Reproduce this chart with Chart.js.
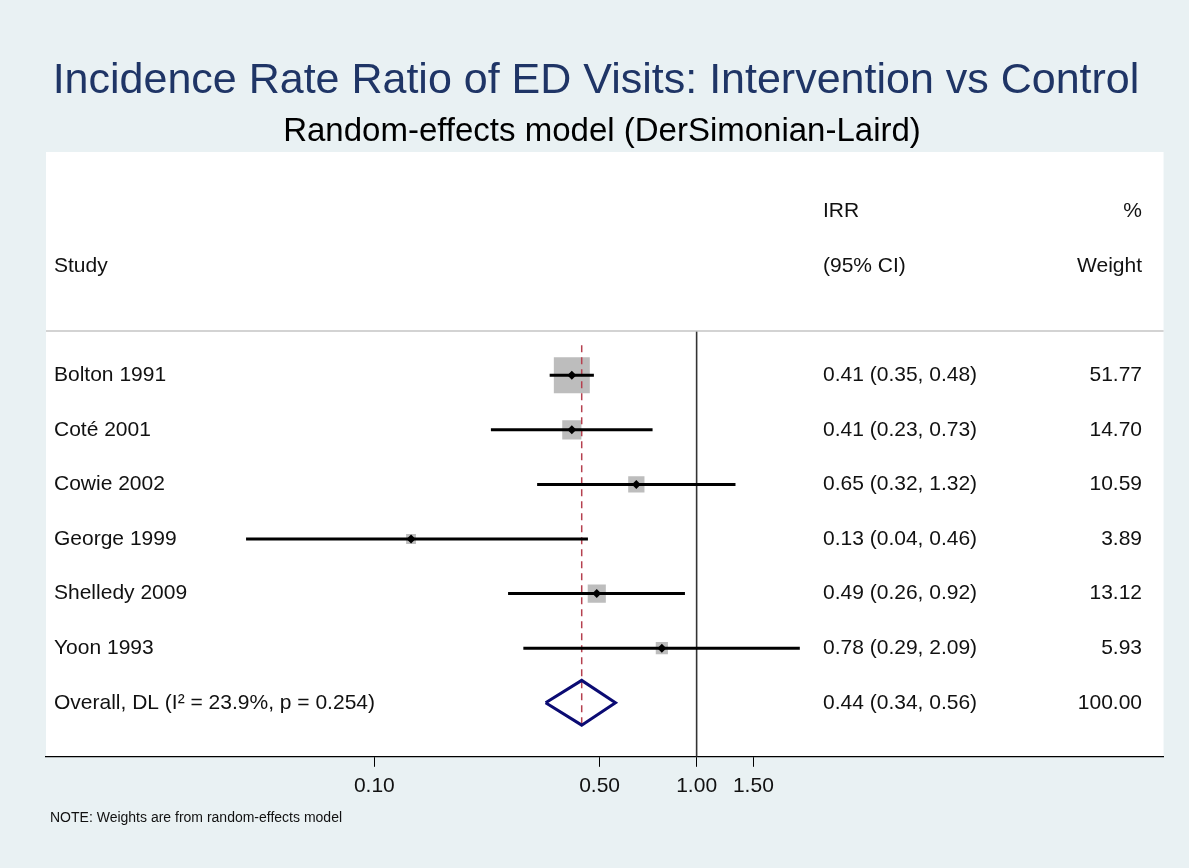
<!DOCTYPE html>
<html>
<head>
<meta charset="utf-8">
<title>Forest plot - IRR of ED visits</title>
<script src="https://cdn.jsdelivr.net/npm/chart.js@4.4.1/dist/chart.umd.min.js"></script>
<style>
  html, body { margin: 0; padding: 0; background: #e9f1f3; }
  #wrap { width: 1189px; height: 868px; }
</style>
</head>
<body>
<div id="wrap"><canvas id="forest" width="1189" height="868"></canvas></div>
<script>
// ---------- data ---------- //
const studies = ["Bolton 1991", "Coté 2001", "Cowie 2002", "George 1999", "Shelledy 2009", "Yoon 1993"];
const irr = [0.41, 0.41, 0.65, 0.13, 0.49, 0.78];
const ciLow = [0.35, 0.23, 0.32, 0.04, 0.26, 0.29];
const ciHigh = [0.48, 0.73, 1.32, 0.46, 0.92, 2.09];
const weights = [51.77, 14.70, 10.59, 3.89, 13.12, 5.93];

const overallIrr = 0.44;
const overallLow = 0.34;
const overallHigh = 0.56;
const overallWeight = 100;
const iSquared = 23.9;
const pHet = 0.254;

const xTicks = [0.1, 0.5, 1, 1.5];

const FONT = "'Liberation Sans', Arial, Helvetica, sans-serif";
const overallRow = studies.length + 1;

// ---------- datasets ---------- //
const ciSets = studies.map((s, i) => ({
  type: "line",
  data: [{ x: ciLow[i], y: i + 1 }, { x: ciHigh[i], y: i + 1 }],
  borderColor: "#000",
  borderWidth: 3,
  pointRadius: 0,
  borderCapStyle: "butt",
}));

const datasets = [
  // point estimates
  {
    type: "scatter",
    data: irr.map((v, i) => ({ x: v, y: i + 1 })),
    pointStyle: "rectRot",
    pointRadius: 4.5,
    backgroundColor: "#000",
    borderColor: "#000",
    borderWidth: 0,
  },
  ...ciSets,
  // pooled estimate diamond
  {
    type: "line",
    data: [
      { x: overallLow, y: overallRow },
      { x: overallIrr, y: overallRow - 0.41 },
      { x: overallHigh, y: overallRow },
      { x: overallIrr, y: overallRow + 0.41 },
      { x: overallLow, y: overallRow },
    ],
    borderColor: "#0b0b73",
    borderWidth: 3,
    pointRadius: 0,
    tension: 0,
    borderJoinStyle: "miter",
  },
  // line of no effect
  {
    type: "line",
    data: [{ x: 1, y: 0.19 }, { x: 1, y: 8 }],
    borderColor: "#333",
    borderWidth: 1.6,
    pointRadius: 0,
  },
  // overall estimate dashed line
  {
    type: "line",
    data: [{ x: overallIrr, y: 0.45 }, { x: overallIrr, y: 7.46 }],
    borderColor: "#b5404f",
    borderWidth: 1.5,
    borderDash: [7, 5],
    pointRadius: 0,
  },
  // weight boxes
  {
    type: "scatter",
    data: irr.map((v, i) => ({ x: v, y: i + 1 })),
    pointStyle: "rect",
    pointRadius: weights.map((w) => (5 * Math.sqrt(w)) / 1.414),
    backgroundColor: "#bdbdbd",
    borderWidth: 0,
  },
];

// ---------- decorations: titles, columns, separator ---------- //
const forestDecor = {
  id: "forestDecor",
  beforeDraw(chart) {
    const { ctx, chartArea } = chart;
    ctx.save();
    ctx.fillStyle = "#e9f1f3";
    ctx.fillRect(0, 0, chart.width, chart.height);
    ctx.fillStyle = "#ffffff";
    ctx.fillRect(chartArea.left, chartArea.top, chartArea.right - chartArea.left, chartArea.bottom - chartArea.top);

    ctx.textAlign = "center";
    ctx.textBaseline = "middle";
    ctx.fillStyle = "#1f3566";
    ctx.font = "43px " + FONT;
    ctx.fillText("Incidence Rate Ratio of ED Visits: Intervention vs Control", 596, 81);
    ctx.fillStyle = "#000";
    ctx.font = "33px " + FONT;
    ctx.fillText("Random-effects model (DerSimonian-Laird)", 602, 132);

    ctx.font = "14px " + FONT;
    ctx.textAlign = "left";
    ctx.fillStyle = "#111";
    ctx.fillText("NOTE: Weights are from random-effects model", 50, 818);
    ctx.restore();
  },
  afterDatasetsDraw(chart) {
    const { ctx, chartArea } = chart;
    const y = chart.scales.y;
    ctx.save();
    // header separator
    ctx.strokeStyle = "#c4c4c4";
    ctx.lineWidth = 1.5;
    ctx.beginPath();
    ctx.moveTo(chartArea.left, y.getPixelForValue(0.19));
    ctx.lineTo(chartArea.right, y.getPixelForValue(0.19));
    ctx.stroke();

    ctx.fillStyle = "#111";
    ctx.font = "21px " + FONT;
    ctx.textBaseline = "middle";
    const colStudy = 54, colIrr = 823, colW = 1142;

    ctx.textAlign = "left";
    ctx.fillText("IRR", colIrr, y.getPixelForValue(-2));
    ctx.fillText("Study", colStudy, y.getPixelForValue(-1));
    ctx.fillText("(95% CI)", colIrr, y.getPixelForValue(-1));
    ctx.textAlign = "right";
    ctx.fillText("%", colW, y.getPixelForValue(-2));
    ctx.fillText("Weight", colW, y.getPixelForValue(-1));

    const fmt = (v) => v.toFixed(2);
    studies.forEach((s, i) => {
      const py = y.getPixelForValue(i + 1);
      ctx.textAlign = "left";
      ctx.fillText(s, colStudy, py);
      ctx.fillText(fmt(irr[i]) + " (" + fmt(ciLow[i]) + ", " + fmt(ciHigh[i]) + ")", colIrr, py);
      ctx.textAlign = "right";
      ctx.fillText(fmt(weights[i]), colW, py);
    });
    const py = y.getPixelForValue(overallRow);
    ctx.textAlign = "left";
    ctx.fillText("Overall, DL (I\u00B2 = " + iSquared.toFixed(1) + "%, p = " + pHet.toFixed(3) + ")", colStudy, py);
    ctx.fillText(fmt(overallIrr) + " (" + fmt(overallLow) + ", " + fmt(overallHigh) + ")", colIrr, py);
    ctx.textAlign = "right";
    ctx.fillText(fmt(overallWeight), colW, py);
    ctx.restore();
  },
};

// ---------- Chart.js setup ---------- //
const ctx = document.getElementById("forest").getContext("2d");
const forestChart = new Chart(ctx, {
  type: "scatter",
  data: { datasets },
  options: {
    responsive: false,
    animation: false,
    layout: { padding: { left: 46, right: 20, top: 152, bottom: 62 } },
    plugins: {
      legend: { display: false },
      tooltip: { enabled: false },
      title: { display: false },
    },
    scales: {
      x: {
        type: "logarithmic",
        bounds: "data",
        min: 0.00958,
        max: 28.1,
        afterBuildTicks: (scale) => {
          scale.ticks = xTicks.map((v) => ({ value: v }));
        },
        grid: { display: true, drawOnChartArea: false, drawTicks: true, tickLength: 10, color: "#000", lineWidth: 1 },
        border: { display: true, color: "#000", width: 1.2 },
        ticks: {
          autoSkip: false,
          maxRotation: 0,
          padding: 7,
          color: "#111",
          font: { family: FONT, size: 21 },
          callback: (v) => Number(v).toFixed(2),
        },
      },
      y: {
        type: "linear",
        display: false,
        reverse: true,
        min: -3.09,
        max: 7.99,
      },
    },
  },
  plugins: [forestDecor],
});
</script>
</body>
</html>
